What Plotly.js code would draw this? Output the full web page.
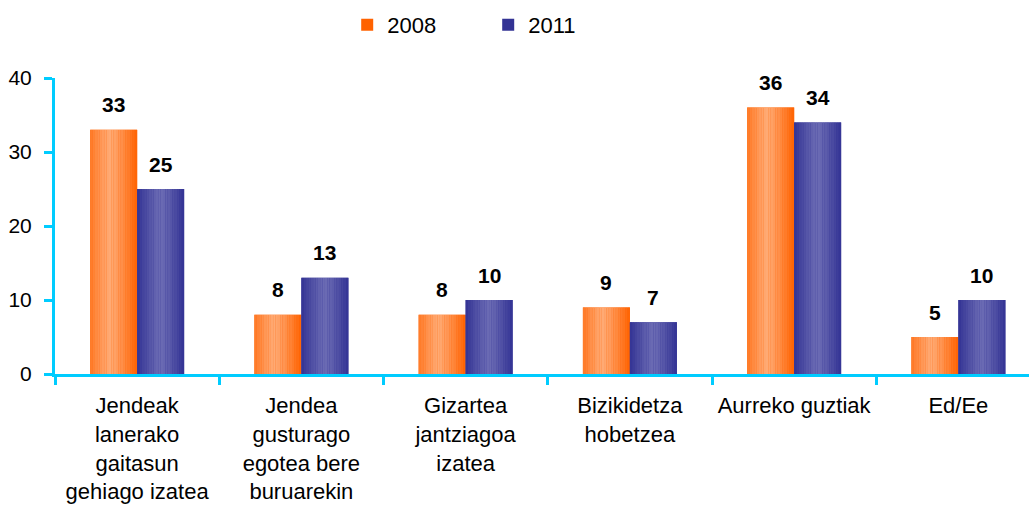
<!DOCTYPE html>
<html>
<head>
<meta charset="utf-8">
<script src="https://cdn.plot.ly/plotly-3.0.1.min.js"></script>
<style>html,body{margin:0;padding:0;background:#fff;}#chart{width:1029px;height:507px;}</style>
</head>
<body>
<div id="chart"></div>
<script>
const categories = [
  "Jendeak<br>lanerako<br>gaitasun<br>gehiago izatea",
  "Jendea<br>gusturago<br>egotea bere<br>buruarekin",
  "Gizartea<br>jantziagoa<br>izatea",
  "Bizikidetza<br>hobetzea",
  "Aurreko guztiak",
  "Ed/Ee"
];
const seriesNames = ["2008", "2011"];
const values2008 = [33, 8, 8, 9, 36, 5];
const values2011 = [25, 13, 10, 7, 34, 10];

const FONT = "Liberation Sans, Arial, sans-serif";
const BAR_W = 0.286;
const N = 20;

function mix(a, b, f) {
  const pa = [parseInt(a.slice(1,3),16), parseInt(a.slice(3,5),16), parseInt(a.slice(5,7),16)];
  const pb = [parseInt(b.slice(1,3),16), parseInt(b.slice(3,5),16), parseInt(b.slice(5,7),16)];
  return "rgb(" + pa.map((v,i)=>Math.round(v + (pb[i]-v)*f)).join(",") + ")";
}

function gradientBars(values, name, edge, light, peak, base) {
  const out = [];
  out.push({
    type: "bar", x: categories, y: values, name: name,
    offset: base, width: BAR_W,
    marker: {color: edge, line: {width: 0}},
    showlegend: true, hoverinfo: "skip"
  });
  const w = BAR_W / N;
  for (let i = 0; i < N; i++) {
    const t = (i + 0.5) / N;
    const d = Math.abs(t - peak) / Math.max(peak, 1 - peak);
    const f = Math.max(0, 1 - Math.pow(d, 1.2));
    out.push({
      type: "bar", x: categories, y: values, name: name,
      offset: base + i * w, width: w * 1.03,
      marker: {color: mix(edge, light, f), line: {width: 0}},
      showlegend: false, hoverinfo: "skip"
    });
  }
  return out;
}

const traces = [].concat(
  gradientBars(values2008, seriesNames[0], "#FF6200", "#FFAA74", 0.42, -BAR_W),
  gradientBars(values2011, seriesNames[1], "#333394", "#6C6CB4", 0.5, 0)
);

const annotations = [];
categories.forEach((c, i) => {
  annotations.push({x: c, y: values2008[i], text: String(values2008[i]), showarrow: false,
    xshift: -BAR_W * 164 / 2, yshift: 25, yanchor: "middle",
    font: {family: FONT, size: 21, color: "#000", weight: "bold"}});
  annotations.push({x: c, y: values2011[i], text: String(values2011[i]), showarrow: false,
    xshift: BAR_W * 164 / 2, yshift: 25, yanchor: "middle",
    font: {family: FONT, size: 21, color: "#000", weight: "bold"}});
});

const layout = {
  width: 1029, height: 507,
  margin: {l: 55, r: 0, t: 78, b: 133},
  paper_bgcolor: "#fff", plot_bgcolor: "#fff",
  barmode: "overlay",
  font: {family: FONT, size: 22, color: "#000"},
  showlegend: true,
  legend: {orientation: "h", x: 0.3, xanchor: "left", y: 1.179, yanchor: "middle",
    font: {family: FONT, size: 22, color: "#000"}, entrywidth: 96, entrywidthmode: "pixels"},
  xaxis: {
    type: "category", range: [-0.5, 5.43], tickson: "boundaries", tickangle: 0,
    showline: true, linecolor: "#00CCFF", linewidth: 3,
    ticks: "outside", ticklen: 8, tickwidth: 3, tickcolor: "#00CCFF",
    showgrid: false, zeroline: false, ticklabelstandoff: 10,
    tickfont: {family: FONT, size: 22, color: "#000"}
  },
  yaxis: {
    range: [0, 40], tickvals: [0, 10, 20, 30, 40],
    showline: true, linecolor: "#00CCFF", linewidth: 3,
    ticks: "outside", ticklen: 8, tickwidth: 3, tickcolor: "#00CCFF",
    showgrid: false, zeroline: false, ticklabelstandoff: 8,
    tickfont: {family: FONT, size: 21, color: "#000"}
  },
  annotations: annotations
};

Plotly.newPlot("chart", traces, layout, {displayModeBar: false, staticPlot: true});
</script>
</body>
</html>
